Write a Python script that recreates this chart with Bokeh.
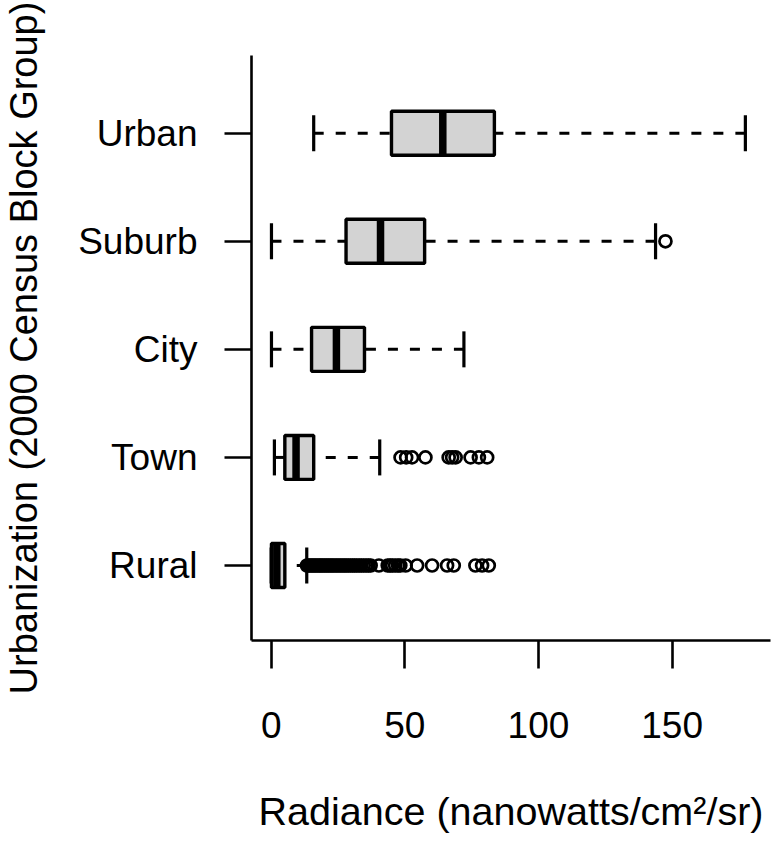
from bokeh.plotting import figure
from bokeh.models import ColumnDataSource, FixedTicker, Range1d
from bokeh.embed import file_html
from bokeh.resources import INLINE

# ---- data ----
categories = ["Rural", "Town", "City", "Suburb", "Urban"]
whisker_low = [0.0, 1.2, 0.1, 0.1, 15.9]
q1 = [0.1, 5.1, 15.1, 28.0, 45.0]
median = [2.1, 9.3, 24.4, 40.9, 64.2]
q3 = [5.1, 15.9, 34.9, 57.4, 83.5]
whisker_high = [13.3, 40.6, 72.1, 143.8, 177.4]

rural_outliers = [13.4, 14.0, 14.7, 15.3, 16.0, 16.6, 17.3, 18.0, 18.6, 19.3,
                  20.0, 20.7, 21.4, 22.1, 22.8, 23.5, 24.3, 25.0, 25.8, 26.5,
                  27.3, 28.0, 28.8, 29.6, 30.4, 31.2, 32.0, 32.9, 33.7, 34.6,
                  35.5, 36.4, 37.2, 40.3, 43.6, 44.5, 45.3, 46.4, 47.5, 48.3,
                  50.3, 54.6, 60.2, 65.8, 68.3, 76.4, 78.9, 81.4]
town_outliers = [48.4, 50.5, 52.7, 57.7, 66.4, 67.7, 69.0, 74.6, 77.7, 80.8]
city_outliers = []
suburb_outliers = [147.5]
urban_outliers = []

x_ticks = [0, 50, 100, 150]
x_title = "Radiance (nanowatts/cm\u00b2/sr)"
y_title = "Urbanization (2000 Census Block Group)"

# ---- build sources ----
ypos = [i + 1 for i in range(len(categories))]
BOX_H = 0.407
STAPLE_H = 0.333

box_src = ColumnDataSource(dict(
    y=ypos, q1=q1, q3=q3, med=median, lw=whisker_low, hw=whisker_high,
    yb=[v - BOX_H / 2 for v in ypos], yt=[v + BOX_H / 2 for v in ypos],
    ysb=[v - STAPLE_H / 2 for v in ypos], yst=[v + STAPLE_H / 2 for v in ypos],
))

out_x, out_y = [], []
for pos, vals in zip(ypos, [rural_outliers, town_outliers, city_outliers,
                            suburb_outliers, urban_outliers]):
    out_x.extend(vals)
    out_y.extend([pos] * len(vals))
out_src = ColumnDataSource(dict(x=out_x, y=out_y))

FONT = "Liberation Sans"

p = figure(width=776, height=856, output_backend="svg", toolbar_location=None,
           x_range=Range1d(-7.37, 186.8), y_range=Range1d(0.306, 5.719),
           min_border_left=251, min_border_right=6, min_border_top=55,
           min_border_bottom=216)
p.outline_line_color = None
p.grid.visible = False
p.background_fill_color = "white"
p.border_fill_color = "white"

# whiskers (drawn from whisker end toward the box)
p.segment(x0="lw", y0="y", x1="q1", y1="y", source=box_src,
          line_color="black", line_width=3, line_dash="10 12")
p.segment(x0="hw", y0="y", x1="q3", y1="y", source=box_src,
          line_color="black", line_width=3, line_dash="10 12")
# staples
p.segment(x0="lw", y0="ysb", x1="lw", y1="yst", source=box_src,
          line_color="black", line_width=3.2)
p.segment(x0="hw", y0="ysb", x1="hw", y1="yst", source=box_src,
          line_color="black", line_width=3.2)
# boxes
p.hbar(y="y", left="q1", right="q3", height=BOX_H, source=box_src,
       fill_color="#D3D3D3", line_color="black", line_width=3.4)
# medians
p.segment(x0="med", y0="yb", x1="med", y1="yt", source=box_src,
          line_color="black", line_width=7.5, line_cap="butt")
# outliers
p.scatter(x="x", y="y", source=out_src, marker="circle", size=12,
          fill_color=None, line_color="black", line_width=2.7)

# ---- axes ----
xa = p.xaxis[0]
xa.ticker = FixedTicker(ticks=x_ticks)
xa.axis_line_width = 2.6
xa.major_tick_line_width = 2.6
xa.major_tick_out = 28
xa.major_tick_in = 0
xa.minor_tick_line_color = None
xa.major_label_text_font = FONT
xa.major_label_text_font_size = "37px"
xa.major_label_text_color = "black"
xa.major_label_standoff = 43
xa.axis_label = x_title
xa.axis_label_text_font = FONT
xa.axis_label_text_font_size = "39.5px"
xa.axis_label_text_font_style = "normal"
xa.axis_label_text_color = "black"
xa.axis_label_standoff = 48

ya = p.yaxis[0]
ya.ticker = FixedTicker(ticks=ypos)
ya.major_label_overrides = {pos: name for pos, name in zip(ypos, categories)}
ya.axis_line_width = 2.6
ya.major_tick_line_width = 2.6
ya.major_tick_out = 27
ya.major_tick_in = 0
ya.minor_tick_line_color = None
ya.major_label_text_font = FONT
ya.major_label_text_font_size = "37px"
ya.major_label_text_color = "black"
ya.major_label_standoff = 27
ya.major_label_orientation = "horizontal"
ya.axis_label = y_title
ya.axis_label_text_font = FONT
ya.axis_label_text_font_size = "38px"
ya.axis_label_text_font_style = "normal"
ya.axis_label_text_color = "black"
ya.axis_label_standoff = 30

open("out.html", "w").write(file_html(p, INLINE))
